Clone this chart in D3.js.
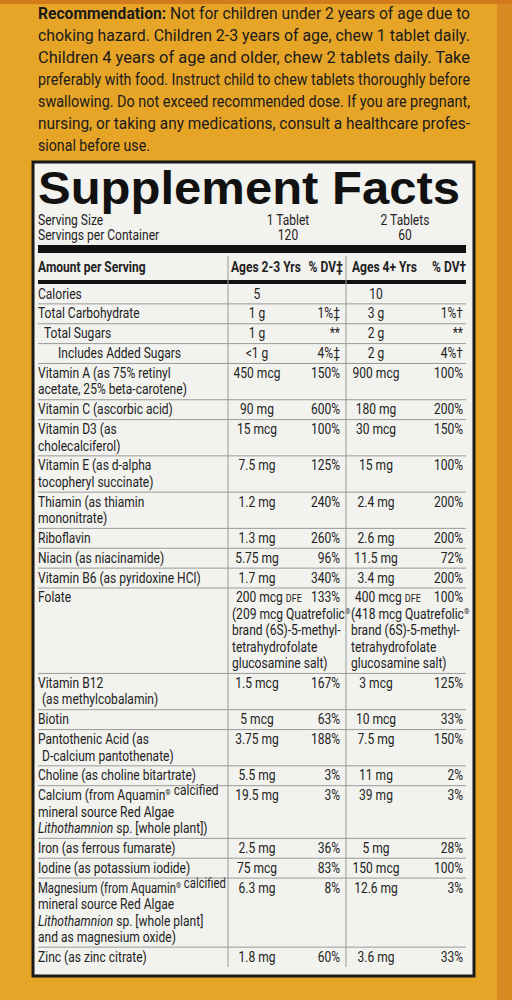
<!DOCTYPE html>
<html><head><meta charset="utf-8">
<script src="https://cdn.jsdelivr.net/npm/d3@7"></script>
<style>
body{margin:0;background:#e7a527;}
svg{display:block;}
</style></head>
<body>
<div id="chart"></div>
<script>
const recommendation = [
  ["Recommendation:", " Not for children under 2 years of age due to"],
  ["", "choking hazard. Children 2-3 years of age, chew 1 tablet daily."],
  ["", "Children 4 years of age and older, chew 2 tablets daily. Take"],
  ["", "preferably with food. Instruct child to chew tablets thoroughly before"],
  ["", "swallowing. Do not exceed recommended dose. If you are pregnant,"],
  ["", "nursing, or taking any medications, consult a healthcare profes-"],
  ["", "sional before use."]
];
const servingLabels = ["Serving Size", "Servings per Container"];
const servingKids = ["1 Tablet", "120"];
const servingOlder = ["2 Tablets", "60"];
const headers = ["Amount per Serving", "Ages 2-3 Yrs", "% DV‡", "Ages 4+ Yrs", "% DV†"];

const nutrients = [
  ["Calories"], ["Total Carbohydrate"], ["Total Sugars"], ["Includes Added Sugars"],
  ["Vitamin A (as 75% retinyl", "acetate, 25% beta-carotene)"],
  ["Vitamin C (ascorbic acid)"],
  ["Vitamin D3 (as", "cholecalciferol)"],
  ["Vitamin E (as d-alpha", "tocopheryl succinate)"],
  ["Thiamin (as thiamin", "mononitrate)"],
  ["Riboflavin"], ["Niacin (as niacinamide)"], ["Vitamin B6 (as pyridoxine HCl)"],
  ["Folate", "", "", "", ""],
  ["Vitamin B12", " (as methylcobalamin)"],
  ["Biotin"],
  ["Pantothenic Acid (as", " D-calcium pantothenate)"],
  ["Choline (as choline bitartrate)"],
  ["Calcium (from Aquamin® calcified", "mineral source Red Algae", "_Lithothamnion_ sp. [whole plant])"],
  ["Iron (as ferrous fumarate)"], ["Iodine (as potassium iodide)"],
  ["Magnesium (from Aquamin® calcified", "mineral source Red Algae", "_Lithothamnion_ sp. [whole plant]", "and as magnesium oxide)"],
  ["Zinc (as zinc citrate)"]
];
const indents = [0, 0, 6, 20, 0, 0, 0, 0, 0, 0, 0, 0, 0, 0, 0, 0, 0, 0, 0, 0, 0, 0];
const amountKids = ["5", "1 g", "1 g", "<1 g", "450 mcg", "90 mg", "15 mcg", "7.5 mg", "1.2 mg", "1.3 mg", "5.75 mg", "1.7 mg",
  "200 mcg DFE", "1.5 mcg", "5 mcg", "3.75 mg", "5.5 mg", "19.5 mg", "2.5 mg", "75 mcg", "6.3 mg", "1.8 mg"];
const dvKids = ["", "1%‡", "**", "4%‡", "150%", "600%", "100%", "125%", "240%", "260%", "96%", "340%",
  "133%", "167%", "63%", "188%", "3%", "3%", "36%", "83%", "8%", "60%"];
const amountOlder = ["10", "3 g", "2 g", "2 g", "900 mcg", "180 mg", "30 mcg", "15 mg", "2.4 mg", "2.6 mg", "11.5 mg", "3.4 mg",
  "400 mcg DFE", "3 mcg", "10 mcg", "7.5 mg", "11 mg", "39 mg", "5 mg", "150 mcg", "12.6 mg", "3.6 mg"];
const dvOlder = ["", "1%†", "**", "4%†", "100%", "200%", "150%", "100%", "200%", "200%", "72%", "200%",
  "100%", "125%", "33%", "150%", "2%", "3%", "28%", "100%", "3%", "33%"];
const folateKids = ["(209 mcg Quatrefolic®", "brand (6S)-5-methyl-", "tetrahydrofolate", "glucosamine salt)"];
const folateOlder = ["(418 mcg Quatrefolic®", "brand (6S)-5-methyl-", "tetrahydrofolate", "glucosamine salt)"];

const W = 512, H = 1000;
const FONT = "Roboto,'Liberation Sans',sans-serif";
const SX = 0.86; // horizontal squeeze to mimic the condensed label face
const svg = d3.select("#chart").append("svg").attr("width", W).attr("height", H);

svg.append("rect").attr("width", W).attr("height", H).attr("fill", "#e7a527");
svg.append("rect").attr("x", 497).attr("width", 15).attr("height", H).attr("fill", "#d98a22");
svg.append("rect").attr("width", W).attr("height", 4).attr("fill", "#d27a1c");

function txt(parent, x, y, anchor) {
  return parent.append("text").attr("transform", `translate(${x},${y}) scale(${SX},1)`)
    .attr("text-anchor", anchor || "start");
}

// top paragraph
const para = svg.append("g").attr("font-family", FONT).attr("font-size", 16.5).attr("fill", "#1a1a1a");
recommendation.forEach((l, i) => {
  const t = txt(para, 38, 19 + i * 22);
  if (i < recommendation.length - 1) t.attr("textLength", 432 / SX).attr("lengthAdjust", "spacingAndGlyphs");
  if (l[0]) t.append("tspan").attr("font-weight", "bold").text(l[0]);
  t.append("tspan").text(l[1]);
});

// label box
const bx = 33, bw = 441, by = 162, bh = 814;
svg.append("rect").attr("x", bx).attr("y", by).attr("width", bw).attr("height", bh)
  .attr("fill", "#f2f2ef").attr("stroke", "#1a1a1a").attr("stroke-width", 3);

const L = 38, R = 466, c1 = 228, c2 = 346;
svg.append("text").attr("x", L).attr("y", 204).attr("font-family", "'Liberation Sans',Arial,sans-serif")
  .attr("font-weight", "bold").attr("font-size", 47).attr("textLength", 422).attr("lengthAdjust", "spacingAndGlyphs")
  .attr("fill", "#111").text("Supplement Facts");

const g = svg.append("g").attr("font-family", FONT).attr("font-size", 14).attr("fill", "#222");
servingLabels.forEach((s, i) => {
  const y = 225 + i * 15;
  txt(g, L, y).text(s);
  txt(g, 288, y, "middle").text(servingKids[i]);
  txt(g, 405, y, "middle").text(servingOlder[i]);
});
svg.append("rect").attr("x", L).attr("y", 245).attr("width", R - L).attr("height", 8).attr("fill", "#111");

const hy = 272;
txt(g, L, hy).attr("font-weight", "bold").text(headers[0]);
txt(g, 231, hy).attr("font-weight", "bold").text(headers[1]);
txt(g, 343, hy, "end").attr("font-weight", "bold").text(headers[2]);
txt(g, 352, hy).attr("font-weight", "bold").text(headers[3]);
txt(g, R, hy, "end").attr("font-weight", "bold").text(headers[4]);
svg.append("rect").attr("x", L).attr("y", 280).attr("width", R - L).attr("height", 4).attr("fill", "#111");

// row layout from line counts
const rowH = d => 20 + (d.length - 1) * 16.5;
const heights = nutrients.map(rowH);
const tops = [0, ...d3.cumsum(heights)];
const y = d3.scaleLinear().domain([0, tops[tops.length - 1]]).range([284, 967]);

svg.selectAll("line.col").data([c1, c2]).join("line").attr("class", "col")
  .attr("x1", d => d).attr("x2", d => d).attr("y1", 256).attr("y2", y(tops[tops.length - 1]))
  .attr("stroke", "#999").attr("stroke-width", 1);

function richLine(t, str) {
  str.split("_").forEach((part, k) => {
    part.split("®").forEach((seg, j, arr) => {
      t.append("tspan").attr("font-style", k % 2 ? "italic" : null).text(seg);
      if (j < arr.length - 1) t.append("tspan").attr("font-size", 8).attr("dy", -5).text("®")
        .clone().attr("font-size", 14).attr("dy", 5).text("");
    });
  });
}

nutrients.forEach((lines, i) => {
  const top = y(tops[i]), bot = y(tops[i + 1]);
  if (i < nutrients.length - 1)
    svg.append("line").attr("x1", L).attr("x2", R).attr("y1", bot).attr("y2", bot).attr("stroke", "#9a9a9a");
  const base = top + 14.5;
  lines.forEach((ln, k) => {
    if (!ln) return;
    const t = txt(g, L + indents[i] + (ln.startsWith(" ") ? 4 : 0), base + k * 16.5);
    richLine(t, ln.trim());
    if (t.node().getComputedTextLength() * SX > 188) t.attr("textLength", 188 / SX).attr("lengthAdjust", "spacingAndGlyphs");
  });
  [[amountKids[i], 257, 236], [amountOlder[i], 376, 355]].forEach(([s, cx, lx]) => {
    if (s.endsWith("DFE")) {
      const t = txt(g, lx, base);
      t.append("tspan").text(s.replace(" DFE", " "));
      t.append("tspan").attr("font-size", 10.5).text("DFE");
    } else txt(g, cx, base, "middle").text(s);
  });
  txt(g, 340, base, "end").text(dvKids[i]);
  txt(g, 463, base, "end").text(dvOlder[i]);
  if (lines[0] === "Folate") {
    [[folateKids, 232], [folateOlder, 351]].forEach(([arr, x]) => {
      arr.forEach((s, k) => richLine(txt(g, x, base + (k + 1) * 16.5), s));
    });
  }
});
</script>
</body></html>
